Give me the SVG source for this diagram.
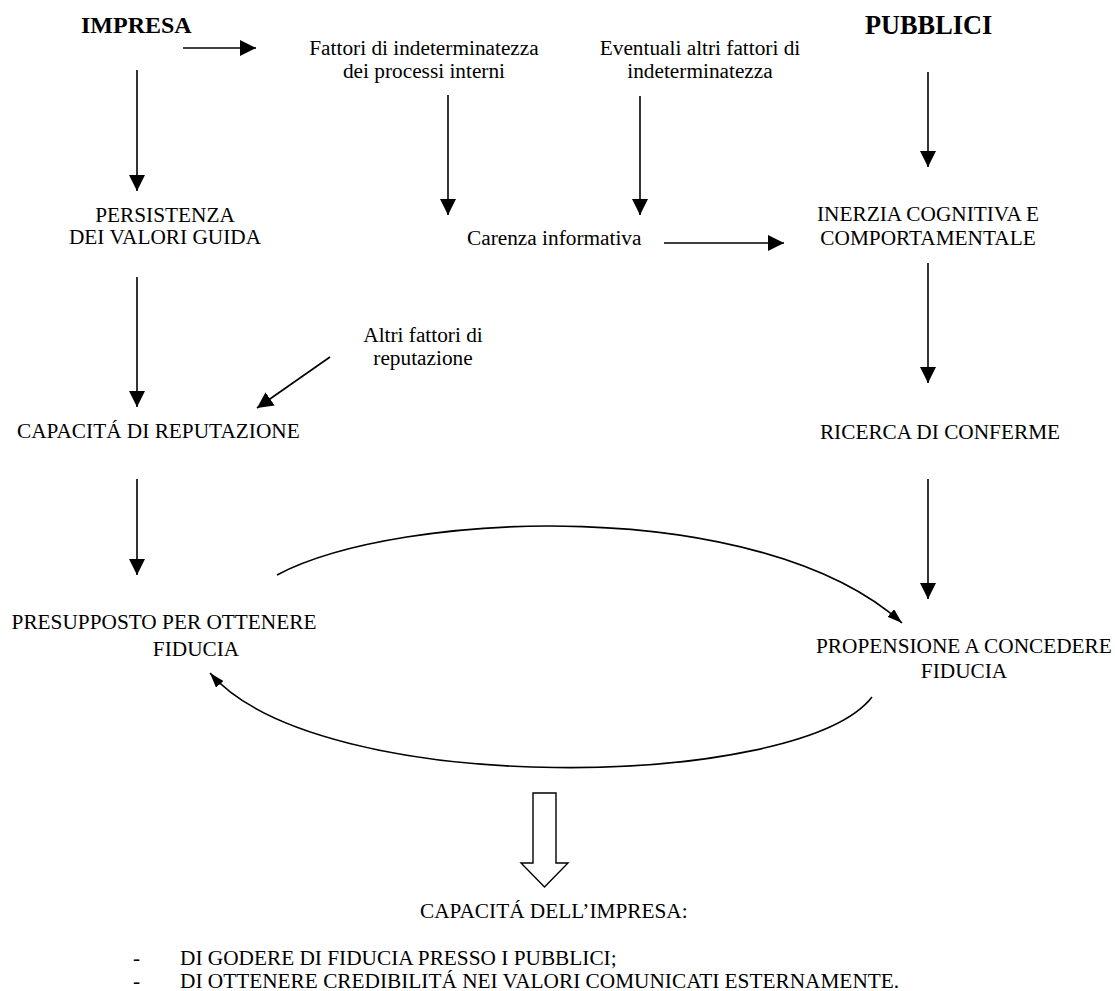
<svg xmlns="http://www.w3.org/2000/svg" width="1115" height="991" viewBox="0 0 1115 991">
  <style>
    .t { font-family: "Liberation Serif", "Times New Roman", serif; font-size: 21.3px; fill: #000; }
    .h { font-family: "Liberation Serif", "Times New Roman", serif; font-weight: bold; fill: #000; }
    .m { text-anchor: middle; }
    .c { fill: none; stroke: #000; stroke-width: 1.6; }
  </style>
  <defs>
    <marker id="arr" viewBox="0 0 16 16" refX="16" refY="8" markerWidth="16" markerHeight="16" markerUnits="userSpaceOnUse" orient="auto">
      <path d="M0,0 L16,8 L0,16 z" fill="#000"/>
    </marker>
    <marker id="arrSmall" viewBox="0 0 15 10" refX="15" refY="5" markerWidth="15" markerHeight="10" markerUnits="userSpaceOnUse" orient="auto">
      <path d="M0,0 L15,5 L0,10 z" fill="#000"/>
    </marker>
  </defs>

  <rect width="1115" height="991" fill="#fff"/>

  <!-- nodes -->
  <g id="impresa"><text class="h" x="81" y="33" font-size="24">IMPRESA</text></g>
  <g id="pubblici"><text class="h" x="865" y="34" font-size="26.3">PUBBLICI</text></g>

  <g id="fattori-interni">
    <text class="t m" x="424" y="55">Fattori di indeterminatezza</text>
    <text class="t m" x="424" y="78">dei processi interni</text>
  </g>
  <g id="altri-fattori-indeterminatezza">
    <text class="t m" x="700" y="55">Eventuali altri fattori di</text>
    <text class="t m" x="700" y="78">indeterminatezza</text>
  </g>

  <g id="persistenza">
    <text class="t m" x="165" y="222">PERSISTENZA</text>
    <text class="t m" x="165" y="244">DEI VALORI GUIDA</text>
  </g>
  <g id="carenza">
    <text class="t" x="467" y="245">Carenza informativa</text>
  </g>
  <g id="inerzia">
    <text class="t m" x="928" y="221">INERZIA COGNITIVA E</text>
    <text class="t m" x="928" y="245">COMPORTAMENTALE</text>
  </g>

  <g id="altri-fattori-reputazione">
    <text class="t m" x="423" y="342">Altri fattori di</text>
    <text class="t m" x="423" y="365">reputazione</text>
  </g>
  <g id="capacita-reputazione">
    <text class="t" x="17" y="438">CAPACITÁ DI REPUTAZIONE</text>
  </g>
  <g id="ricerca">
    <text class="t m" x="940" y="439">RICERCA DI CONFERME</text>
  </g>

  <g id="presupposto">
    <text class="t m" x="164" y="629">PRESUPPOSTO PER OTTENERE</text>
    <text class="t m" x="196" y="656">FIDUCIA</text>
  </g>
  <g id="propensione">
    <text class="t" x="816" y="653">PROPENSIONE A CONCEDERE</text>
    <text class="t m" x="964" y="678">FIDUCIA</text>
  </g>

  <g id="capacita-impresa">
    <text class="t" x="420" y="918">CAPACITÁ DELL’IMPRESA:</text>
    <text class="t" x="133" y="965">-</text>
    <text class="t" x="180" y="965">DI GODERE DI FIDUCIA PRESSO I PUBBLICI;</text>
    <text class="t" x="133" y="988">-</text>
    <text class="t" x="180" y="988">DI OTTENERE CREDIBILITÁ NEI VALORI COMUNICATI ESTERNAMENTE.</text>
  </g>

  <!-- connectors -->
  <g id="connectors" class="c">
    <line x1="183" y1="48" x2="256" y2="48" marker-end="url(#arr)"/>
    <line x1="137" y1="70" x2="137" y2="191" marker-end="url(#arr)"/>
    <line x1="448" y1="95" x2="448" y2="215" marker-end="url(#arr)"/>
    <line x1="640" y1="96" x2="640" y2="215" marker-end="url(#arr)"/>
    <line x1="928" y1="72" x2="928" y2="167" marker-end="url(#arr)"/>
    <line x1="664" y1="243" x2="784" y2="243" marker-end="url(#arr)"/>
    <line x1="137" y1="277" x2="137" y2="407" marker-end="url(#arr)"/>
    <line x1="928" y1="263" x2="928" y2="383" marker-end="url(#arr)"/>
    <line x1="330" y1="357" x2="257" y2="408" marker-end="url(#arr)"/>
    <line x1="137" y1="479" x2="137" y2="575" marker-end="url(#arr)"/>
    <line x1="928" y1="479" x2="928" y2="599" marker-end="url(#arr)"/>
    <path d="M277,575 C400,510 760,495 902,623" marker-end="url(#arrSmall)"/>
    <path d="M872,697 C800,790 320,800 210,673" marker-end="url(#arrSmall)"/>
    <polygon points="533,793 556,793 556,863 568,863 544.5,887 521,863 533,863" fill="#fff" stroke-width="1.4"/>
  </g>
</svg>
